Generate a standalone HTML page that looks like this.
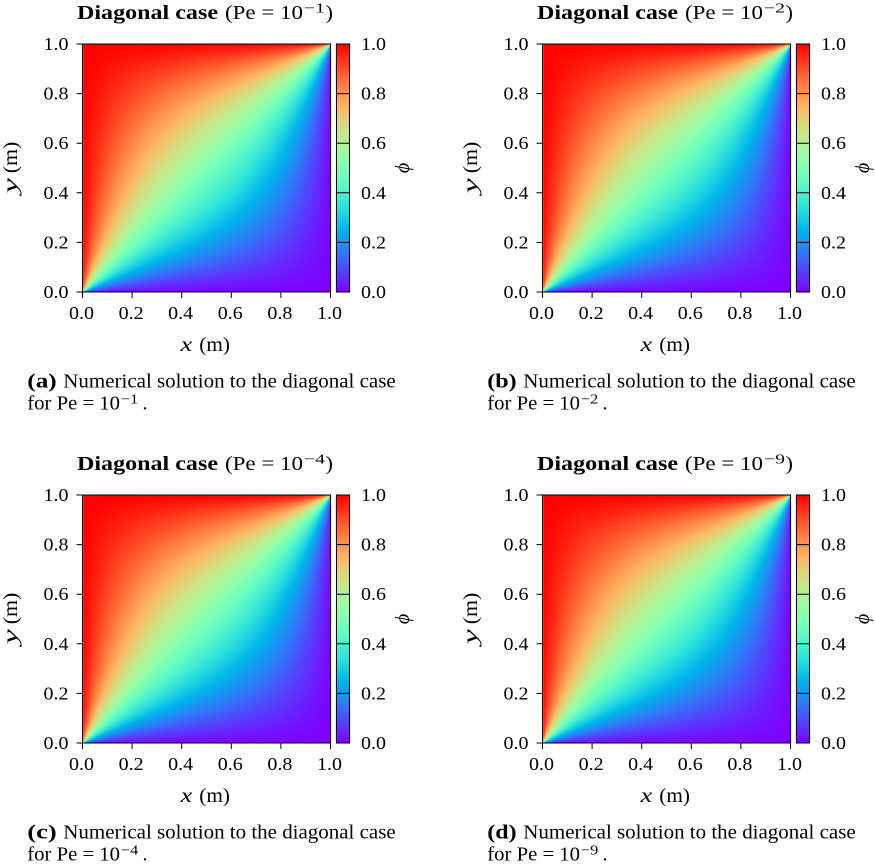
<!DOCTYPE html>
<html><head><meta charset="utf-8"><style>
html,body{margin:0;padding:0;background:#fff}
#w{position:relative;width:875px;height:867px;overflow:hidden;background:#fff}
canvas,svg{position:absolute;left:0;top:0}
text{font-family:"Liberation Serif","DejaVu Serif",serif;fill:#000}
</style></head><body><div id="w">
<canvas id="c" width="875" height="867"></canvas>
<svg width="875" height="867" viewBox="0 0 875 867" xmlns="http://www.w3.org/2000/svg">

<!-- Panel a -->
<g transform="translate(0,0)">
<rect x="82.5" y="44" width="248" height="248" fill="none" stroke="#000" stroke-width="1"/>
<rect x="336.5" y="44" width="13" height="248" fill="none" stroke="#000" stroke-width="1"/>
<path d="M336.5 93.6H349.5M336.5 143.2H349.5M336.5 192.8H349.5M336.5 242.4H349.5" stroke="#000" stroke-width="1"/>
<path d="M76.5 292H82.5M76.5 242.4H82.5M76.5 192.8H82.5M76.5 143.2H82.5M76.5 93.6H82.5M76.5 44H82.5M82.5 292V298M132.1 292V298M181.7 292V298M231.3 292V298M280.9 292V298M330.5 292V298" stroke="#000" stroke-width="1"/>
<g font-size="18">
<text x="43.5" y="298" textLength="25" lengthAdjust="spacingAndGlyphs">0.0</text>
<text x="43.5" y="248.4" textLength="25" lengthAdjust="spacingAndGlyphs">0.2</text>
<text x="43.5" y="198.8" textLength="25" lengthAdjust="spacingAndGlyphs">0.4</text>
<text x="43.5" y="149.2" textLength="25" lengthAdjust="spacingAndGlyphs">0.6</text>
<text x="43.5" y="99.6" textLength="25" lengthAdjust="spacingAndGlyphs">0.8</text>
<text x="43.5" y="50" textLength="25" lengthAdjust="spacingAndGlyphs">1.0</text>
<text x="69" y="319" textLength="25" lengthAdjust="spacingAndGlyphs">0.0</text>
<text x="118.6" y="319" textLength="25" lengthAdjust="spacingAndGlyphs">0.2</text>
<text x="168.2" y="319" textLength="25" lengthAdjust="spacingAndGlyphs">0.4</text>
<text x="217.8" y="319" textLength="25" lengthAdjust="spacingAndGlyphs">0.6</text>
<text x="267.4" y="319" textLength="25" lengthAdjust="spacingAndGlyphs">0.8</text>
<text x="317" y="319" textLength="25" lengthAdjust="spacingAndGlyphs">1.0</text>
<text x="361" y="298" textLength="25" lengthAdjust="spacingAndGlyphs">0.0</text>
<text x="361" y="248.4" textLength="25" lengthAdjust="spacingAndGlyphs">0.2</text>
<text x="361" y="198.8" textLength="25" lengthAdjust="spacingAndGlyphs">0.4</text>
<text x="361" y="149.2" textLength="25" lengthAdjust="spacingAndGlyphs">0.6</text>
<text x="361" y="99.6" textLength="25" lengthAdjust="spacingAndGlyphs">0.8</text>
<text x="361" y="50" textLength="25" lengthAdjust="spacingAndGlyphs">1.0</text>
</g>
<text x="77" y="19" font-weight="bold" font-size="20" textLength="141" lengthAdjust="spacingAndGlyphs">Diagonal case</text>
<text x="225" y="19" font-size="20" textLength="78" lengthAdjust="spacingAndGlyphs">(Pe = 10</text>
<text x="304" y="12.5" font-size="14" textLength="21" lengthAdjust="spacingAndGlyphs">−1</text>
<text x="325.5" y="19" font-size="20" textLength="7.5" lengthAdjust="spacingAndGlyphs">)</text>
<text x="180.7" y="351" font-style="italic" font-size="20" textLength="11.5" lengthAdjust="spacingAndGlyphs">x</text>
<text x="199.3" y="351" font-size="20" textLength="30.7" lengthAdjust="spacingAndGlyphs">(m)</text>
<g transform="translate(17,193.3) rotate(-90)"><text x="0" y="0" font-style="italic" font-size="20" textLength="15" lengthAdjust="spacingAndGlyphs">y</text><text x="20" y="0" font-size="20" textLength="31.6" lengthAdjust="spacingAndGlyphs">(m)</text></g>
<text transform="translate(409,168) rotate(-90)" text-anchor="middle" font-style="italic" font-size="20">ϕ</text>
<text x="27.3" y="387.7" font-weight="bold" font-size="20" textLength="29.4" lengthAdjust="spacingAndGlyphs">(a)</text>
<text x="63.3" y="387.7" font-size="20" textLength="332.4" lengthAdjust="spacingAndGlyphs">Numerical solution to the diagonal case</text>
<text x="27.3" y="409.3" font-size="20" textLength="92.7" lengthAdjust="spacingAndGlyphs">for Pe = 10</text>
<text x="121" y="403.5" font-size="14" textLength="17.3" lengthAdjust="spacingAndGlyphs">−1</text>
<text x="142.5" y="409.3" font-size="20">.</text>
</g>

<!-- Panel b -->
<g transform="translate(460,0)">
<rect x="82.5" y="44" width="248" height="248" fill="none" stroke="#000" stroke-width="1"/>
<rect x="336.5" y="44" width="13" height="248" fill="none" stroke="#000" stroke-width="1"/>
<path d="M336.5 93.6H349.5M336.5 143.2H349.5M336.5 192.8H349.5M336.5 242.4H349.5" stroke="#000" stroke-width="1"/>
<path d="M76.5 292H82.5M76.5 242.4H82.5M76.5 192.8H82.5M76.5 143.2H82.5M76.5 93.6H82.5M76.5 44H82.5M82.5 292V298M132.1 292V298M181.7 292V298M231.3 292V298M280.9 292V298M330.5 292V298" stroke="#000" stroke-width="1"/>
<g font-size="18">
<text x="43.5" y="298" textLength="25" lengthAdjust="spacingAndGlyphs">0.0</text>
<text x="43.5" y="248.4" textLength="25" lengthAdjust="spacingAndGlyphs">0.2</text>
<text x="43.5" y="198.8" textLength="25" lengthAdjust="spacingAndGlyphs">0.4</text>
<text x="43.5" y="149.2" textLength="25" lengthAdjust="spacingAndGlyphs">0.6</text>
<text x="43.5" y="99.6" textLength="25" lengthAdjust="spacingAndGlyphs">0.8</text>
<text x="43.5" y="50" textLength="25" lengthAdjust="spacingAndGlyphs">1.0</text>
<text x="69" y="319" textLength="25" lengthAdjust="spacingAndGlyphs">0.0</text>
<text x="118.6" y="319" textLength="25" lengthAdjust="spacingAndGlyphs">0.2</text>
<text x="168.2" y="319" textLength="25" lengthAdjust="spacingAndGlyphs">0.4</text>
<text x="217.8" y="319" textLength="25" lengthAdjust="spacingAndGlyphs">0.6</text>
<text x="267.4" y="319" textLength="25" lengthAdjust="spacingAndGlyphs">0.8</text>
<text x="317" y="319" textLength="25" lengthAdjust="spacingAndGlyphs">1.0</text>
<text x="361" y="298" textLength="25" lengthAdjust="spacingAndGlyphs">0.0</text>
<text x="361" y="248.4" textLength="25" lengthAdjust="spacingAndGlyphs">0.2</text>
<text x="361" y="198.8" textLength="25" lengthAdjust="spacingAndGlyphs">0.4</text>
<text x="361" y="149.2" textLength="25" lengthAdjust="spacingAndGlyphs">0.6</text>
<text x="361" y="99.6" textLength="25" lengthAdjust="spacingAndGlyphs">0.8</text>
<text x="361" y="50" textLength="25" lengthAdjust="spacingAndGlyphs">1.0</text>
</g>
<text x="77" y="19" font-weight="bold" font-size="20" textLength="141" lengthAdjust="spacingAndGlyphs">Diagonal case</text>
<text x="225" y="19" font-size="20" textLength="78" lengthAdjust="spacingAndGlyphs">(Pe = 10</text>
<text x="304" y="12.5" font-size="14" textLength="21" lengthAdjust="spacingAndGlyphs">−2</text>
<text x="325.5" y="19" font-size="20" textLength="7.5" lengthAdjust="spacingAndGlyphs">)</text>
<text x="180.7" y="351" font-style="italic" font-size="20" textLength="11.5" lengthAdjust="spacingAndGlyphs">x</text>
<text x="199.3" y="351" font-size="20" textLength="30.7" lengthAdjust="spacingAndGlyphs">(m)</text>
<g transform="translate(17,193.3) rotate(-90)"><text x="0" y="0" font-style="italic" font-size="20" textLength="15" lengthAdjust="spacingAndGlyphs">y</text><text x="20" y="0" font-size="20" textLength="31.6" lengthAdjust="spacingAndGlyphs">(m)</text></g>
<text transform="translate(409,168) rotate(-90)" text-anchor="middle" font-style="italic" font-size="20">ϕ</text>
<text x="27.3" y="387.7" font-weight="bold" font-size="20" textLength="29.4" lengthAdjust="spacingAndGlyphs">(b)</text>
<text x="63.3" y="387.7" font-size="20" textLength="332.4" lengthAdjust="spacingAndGlyphs">Numerical solution to the diagonal case</text>
<text x="27.3" y="409.3" font-size="20" textLength="92.7" lengthAdjust="spacingAndGlyphs">for Pe = 10</text>
<text x="121" y="403.5" font-size="14" textLength="17.3" lengthAdjust="spacingAndGlyphs">−2</text>
<text x="142.5" y="409.3" font-size="20">.</text>
</g>

<!-- Panel c -->
<g transform="translate(0,451)">
<rect x="82.5" y="44" width="248" height="248" fill="none" stroke="#000" stroke-width="1"/>
<rect x="336.5" y="44" width="13" height="248" fill="none" stroke="#000" stroke-width="1"/>
<path d="M336.5 93.6H349.5M336.5 143.2H349.5M336.5 192.8H349.5M336.5 242.4H349.5" stroke="#000" stroke-width="1"/>
<path d="M76.5 292H82.5M76.5 242.4H82.5M76.5 192.8H82.5M76.5 143.2H82.5M76.5 93.6H82.5M76.5 44H82.5M82.5 292V298M132.1 292V298M181.7 292V298M231.3 292V298M280.9 292V298M330.5 292V298" stroke="#000" stroke-width="1"/>
<g font-size="18">
<text x="43.5" y="298" textLength="25" lengthAdjust="spacingAndGlyphs">0.0</text>
<text x="43.5" y="248.4" textLength="25" lengthAdjust="spacingAndGlyphs">0.2</text>
<text x="43.5" y="198.8" textLength="25" lengthAdjust="spacingAndGlyphs">0.4</text>
<text x="43.5" y="149.2" textLength="25" lengthAdjust="spacingAndGlyphs">0.6</text>
<text x="43.5" y="99.6" textLength="25" lengthAdjust="spacingAndGlyphs">0.8</text>
<text x="43.5" y="50" textLength="25" lengthAdjust="spacingAndGlyphs">1.0</text>
<text x="69" y="319" textLength="25" lengthAdjust="spacingAndGlyphs">0.0</text>
<text x="118.6" y="319" textLength="25" lengthAdjust="spacingAndGlyphs">0.2</text>
<text x="168.2" y="319" textLength="25" lengthAdjust="spacingAndGlyphs">0.4</text>
<text x="217.8" y="319" textLength="25" lengthAdjust="spacingAndGlyphs">0.6</text>
<text x="267.4" y="319" textLength="25" lengthAdjust="spacingAndGlyphs">0.8</text>
<text x="317" y="319" textLength="25" lengthAdjust="spacingAndGlyphs">1.0</text>
<text x="361" y="298" textLength="25" lengthAdjust="spacingAndGlyphs">0.0</text>
<text x="361" y="248.4" textLength="25" lengthAdjust="spacingAndGlyphs">0.2</text>
<text x="361" y="198.8" textLength="25" lengthAdjust="spacingAndGlyphs">0.4</text>
<text x="361" y="149.2" textLength="25" lengthAdjust="spacingAndGlyphs">0.6</text>
<text x="361" y="99.6" textLength="25" lengthAdjust="spacingAndGlyphs">0.8</text>
<text x="361" y="50" textLength="25" lengthAdjust="spacingAndGlyphs">1.0</text>
</g>
<text x="77" y="19" font-weight="bold" font-size="20" textLength="141" lengthAdjust="spacingAndGlyphs">Diagonal case</text>
<text x="225" y="19" font-size="20" textLength="78" lengthAdjust="spacingAndGlyphs">(Pe = 10</text>
<text x="304" y="12.5" font-size="14" textLength="21" lengthAdjust="spacingAndGlyphs">−4</text>
<text x="325.5" y="19" font-size="20" textLength="7.5" lengthAdjust="spacingAndGlyphs">)</text>
<text x="180.7" y="351" font-style="italic" font-size="20" textLength="11.5" lengthAdjust="spacingAndGlyphs">x</text>
<text x="199.3" y="351" font-size="20" textLength="30.7" lengthAdjust="spacingAndGlyphs">(m)</text>
<g transform="translate(17,193.3) rotate(-90)"><text x="0" y="0" font-style="italic" font-size="20" textLength="15" lengthAdjust="spacingAndGlyphs">y</text><text x="20" y="0" font-size="20" textLength="31.6" lengthAdjust="spacingAndGlyphs">(m)</text></g>
<text transform="translate(409,168) rotate(-90)" text-anchor="middle" font-style="italic" font-size="20">ϕ</text>
<text x="27.3" y="387.7" font-weight="bold" font-size="20" textLength="29.4" lengthAdjust="spacingAndGlyphs">(c)</text>
<text x="63.3" y="387.7" font-size="20" textLength="332.4" lengthAdjust="spacingAndGlyphs">Numerical solution to the diagonal case</text>
<text x="27.3" y="409.3" font-size="20" textLength="92.7" lengthAdjust="spacingAndGlyphs">for Pe = 10</text>
<text x="121" y="403.5" font-size="14" textLength="17.3" lengthAdjust="spacingAndGlyphs">−4</text>
<text x="142.5" y="409.3" font-size="20">.</text>
</g>

<!-- Panel d -->
<g transform="translate(460,451)">
<rect x="82.5" y="44" width="248" height="248" fill="none" stroke="#000" stroke-width="1"/>
<rect x="336.5" y="44" width="13" height="248" fill="none" stroke="#000" stroke-width="1"/>
<path d="M336.5 93.6H349.5M336.5 143.2H349.5M336.5 192.8H349.5M336.5 242.4H349.5" stroke="#000" stroke-width="1"/>
<path d="M76.5 292H82.5M76.5 242.4H82.5M76.5 192.8H82.5M76.5 143.2H82.5M76.5 93.6H82.5M76.5 44H82.5M82.5 292V298M132.1 292V298M181.7 292V298M231.3 292V298M280.9 292V298M330.5 292V298" stroke="#000" stroke-width="1"/>
<g font-size="18">
<text x="43.5" y="298" textLength="25" lengthAdjust="spacingAndGlyphs">0.0</text>
<text x="43.5" y="248.4" textLength="25" lengthAdjust="spacingAndGlyphs">0.2</text>
<text x="43.5" y="198.8" textLength="25" lengthAdjust="spacingAndGlyphs">0.4</text>
<text x="43.5" y="149.2" textLength="25" lengthAdjust="spacingAndGlyphs">0.6</text>
<text x="43.5" y="99.6" textLength="25" lengthAdjust="spacingAndGlyphs">0.8</text>
<text x="43.5" y="50" textLength="25" lengthAdjust="spacingAndGlyphs">1.0</text>
<text x="69" y="319" textLength="25" lengthAdjust="spacingAndGlyphs">0.0</text>
<text x="118.6" y="319" textLength="25" lengthAdjust="spacingAndGlyphs">0.2</text>
<text x="168.2" y="319" textLength="25" lengthAdjust="spacingAndGlyphs">0.4</text>
<text x="217.8" y="319" textLength="25" lengthAdjust="spacingAndGlyphs">0.6</text>
<text x="267.4" y="319" textLength="25" lengthAdjust="spacingAndGlyphs">0.8</text>
<text x="317" y="319" textLength="25" lengthAdjust="spacingAndGlyphs">1.0</text>
<text x="361" y="298" textLength="25" lengthAdjust="spacingAndGlyphs">0.0</text>
<text x="361" y="248.4" textLength="25" lengthAdjust="spacingAndGlyphs">0.2</text>
<text x="361" y="198.8" textLength="25" lengthAdjust="spacingAndGlyphs">0.4</text>
<text x="361" y="149.2" textLength="25" lengthAdjust="spacingAndGlyphs">0.6</text>
<text x="361" y="99.6" textLength="25" lengthAdjust="spacingAndGlyphs">0.8</text>
<text x="361" y="50" textLength="25" lengthAdjust="spacingAndGlyphs">1.0</text>
</g>
<text x="77" y="19" font-weight="bold" font-size="20" textLength="141" lengthAdjust="spacingAndGlyphs">Diagonal case</text>
<text x="225" y="19" font-size="20" textLength="78" lengthAdjust="spacingAndGlyphs">(Pe = 10</text>
<text x="304" y="12.5" font-size="14" textLength="21" lengthAdjust="spacingAndGlyphs">−9</text>
<text x="325.5" y="19" font-size="20" textLength="7.5" lengthAdjust="spacingAndGlyphs">)</text>
<text x="180.7" y="351" font-style="italic" font-size="20" textLength="11.5" lengthAdjust="spacingAndGlyphs">x</text>
<text x="199.3" y="351" font-size="20" textLength="30.7" lengthAdjust="spacingAndGlyphs">(m)</text>
<g transform="translate(17,193.3) rotate(-90)"><text x="0" y="0" font-style="italic" font-size="20" textLength="15" lengthAdjust="spacingAndGlyphs">y</text><text x="20" y="0" font-size="20" textLength="31.6" lengthAdjust="spacingAndGlyphs">(m)</text></g>
<text transform="translate(409,168) rotate(-90)" text-anchor="middle" font-style="italic" font-size="20">ϕ</text>
<text x="27.3" y="387.7" font-weight="bold" font-size="20" textLength="29.4" lengthAdjust="spacingAndGlyphs">(d)</text>
<text x="63.3" y="387.7" font-size="20" textLength="332.4" lengthAdjust="spacingAndGlyphs">Numerical solution to the diagonal case</text>
<text x="27.3" y="409.3" font-size="20" textLength="92.7" lengthAdjust="spacingAndGlyphs">for Pe = 10</text>
<text x="121" y="403.5" font-size="14" textLength="17.3" lengthAdjust="spacingAndGlyphs">−9</text>
<text x="142.5" y="409.3" font-size="20">.</text>
</g>
</svg>
</div>
<script>
(function(){
  var M=248, W=M+2;
  var u=new Float64Array(W*W);
  var i,j,k;
  for(k=0;k<W*W;k++)u[k]=0.5;
  for(i=0;i<W;i++){u[i]=0;u[(W-1)*W+i]=1;}
  for(j=1;j<W-1;j++){u[j*W]=1;u[j*W+W-1]=0;}
  var om=2/(1+Math.sin(Math.PI/(W-1)));
  for(var it=0;it<1100;it++){
    for(var c=0;c<2;c++){
      for(j=1;j<=M;j++){
        i=1+((j+c)&1);
        k=j*W+i;
        for(;i<=M;i+=2,k+=2){
          u[k]+=om*(0.25*(u[k-1]+u[k+1]+u[k-W]+u[k+W])-u[k]);
        }
      }
    }
  }
  function rb(v){
    if(v<0)v=0;if(v>1)v=1;
    var r=Math.abs(2*v-0.5); if(r>1)r=1;
    var g=Math.sin(Math.PI*v); if(g<0)g=0;
    var b=Math.cos(Math.PI*v/2); if(b<0)b=0;
    return [Math.round(r*255),Math.round(g*255),Math.round(b*255)];
  }
  var cv=document.getElementById('c');
  var ctx=cv.getContext('2d');
  ctx.fillStyle='#fff';ctx.fillRect(0,0,875,867);
  var img=ctx.createImageData(M,M);
  var d=img.data;
  for(var py=0;py<M;py++){
    j=M-py;
    for(var px=0;px<M;px++){
      var v=u[j*W+px+1];
      var col=rb(v);
      var p=(py*M+px)*4;
      d[p]=col[0];d[p+1]=col[1];d[p+2]=col[2];d[p+3]=255;
    }
  }
  var offs=[[0,0],[460,0],[0,451],[460,451]];
  for(var q=0;q<4;q++){
    var ox=offs[q][0], oy=offs[q][1];
    ctx.putImageData(img,83+ox,44+oy);
    for(var r=0;r<M;r++){
      var cc=rb(1-(r+0.5)/M);
      ctx.fillStyle='rgb('+cc[0]+','+cc[1]+','+cc[2]+')';
      ctx.fillRect(336+ox,44+oy+r,14,1);
    }
  }
})();
</script>
</body></html>
